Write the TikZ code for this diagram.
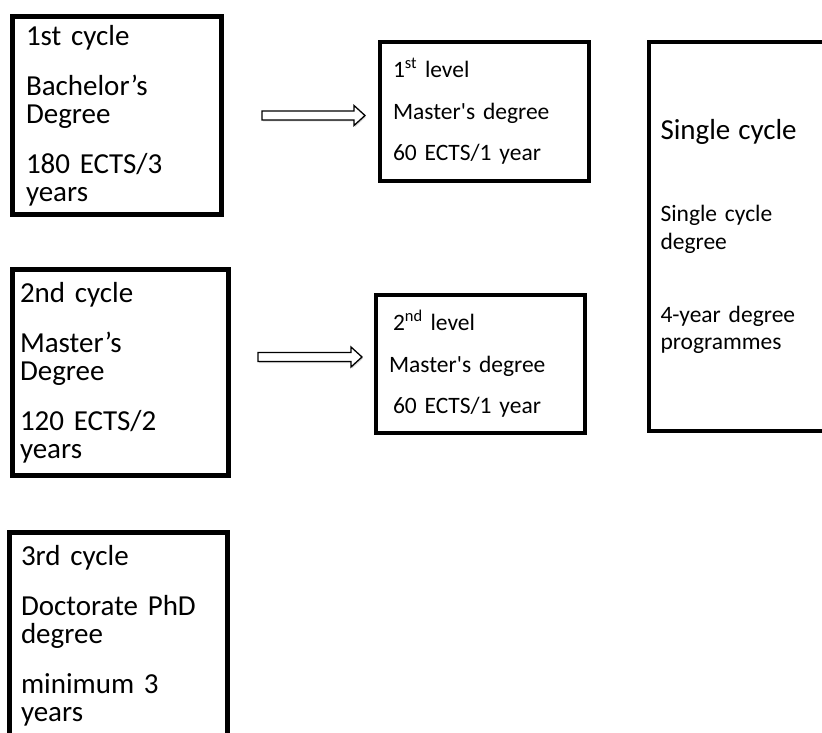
\documentclass[tikz,border=0pt]{standalone}
\usepackage{fontspec}
\setmainfont{Carlito}
\usetikzlibrary{calc, shadows}
\tikzset{cyclebox/.style={draw, line width=5pt, outer sep=0pt, inner ysep=0pt, align=left, anchor=north west, font=\fontsize{29}{28}\selectfont}}
\tikzset{levelbox/.style={draw, line width=3.5pt, outer sep=0pt, inner ysep=0pt, align=left, anchor=north west, font=\fontsize{23.5}{41.5}\selectfont}}
\tikzset{singlebox/.style={draw, line width=4.5pt, outer sep=0pt, inner ysep=0pt, align=left, anchor=north west, font=\fontsize{23.5}{27.5}\selectfont}}
\tikzset{hollow arrow/.style={draw, line width=1.3pt, fill=white, line join=miter, drop shadow={opacity=0.3, shadow xshift=1pt, shadow yshift=-1.5pt}}}
\newcommand{\blockarrow}[2]{%
  \path[hollow arrow] ($(#1)+(0,4.5)$) -- ($(#2)+(-11,4.5)$) -- ($(#2)+(-11,10)$) -- (#2)
    -- ($(#2)+(-11,-10)$) -- ($(#2)+(-11,-4.5)$) -- ($(#1)+(0,-4.5)$) -- cycle;}

\begin{document}
\begin{tikzpicture}[x=1pt, y=-1pt]
  \useasboundingbox[fill=white] (0,0) rectangle (822,733);
  \clip (0,0) rectangle (822,733);

  \node[cyclebox, minimum width=209pt, minimum height=198pt, inner xsep=13.5pt, text width=182pt] (cyc1) at (12.5,16.5)
    {1st cycle\\[22pt] Bachelor’s\\ Degree\\[22pt] 180 ECTS/3\\ years};
  \node[cyclebox, minimum width=216pt, minimum height=206pt, inner xsep=7.5pt, text width=201pt] (cyc2) at (12.5,269.5)
    {2nd cycle\\[22pt] Master’s\\ Degree\\[22pt] 120 ECTS/2\\ years};
  \node[cyclebox, minimum width=218pt, minimum height=206pt, inner xsep=11.5pt, text width=195pt] (cyc3) at (9.5,532.5)
    {3rd cycle\\[22pt] Doctorate PhD\\ degree\\[22pt] minimum 3\\ years};

  \node[levelbox, minimum width=209pt, minimum height=139pt, inner xsep=13pt, text width=183pt] (lvl1) at (380,42)
    {1\textsuperscript{st} level\\ Master\textquotesingle s degree\\ 60 ECTS/1 year};
  \node[levelbox, minimum width=209pt, minimum height=138pt, inner xsep=13pt, text width=183pt] (lvl2) at (376,295)
    {\hspace*{4pt}2\textsuperscript{nd} level\\ Master\textquotesingle s degree\\ \hspace*{4pt}60 ECTS/1 year};

  \node[singlebox, minimum width=181pt, minimum height=389pt, inner xsep=11.5pt, text width=158pt] (single) at (649,42)
    {{\fontsize{29}{27.5}\selectfont Single cycle}\\[54.5pt] Single cycle\\ degree\\[45.5pt] 4-year degree\\ programmes};

  \coordinate (a1s) at ($(cyc1.east)+(40.5,0)$);
  \coordinate (a1e) at ($(a1s -| lvl1.west)+(-15,0)$);
  \coordinate (a2e) at ($(lvl2.west)+(-14,-7)$);
  \coordinate (a2s) at ($(a2e -| cyc2.east)+(29.5,0)$);
  \blockarrow{a1s}{a1e}
  \blockarrow{a2s}{a2e}
\end{tikzpicture}
\end{document}
